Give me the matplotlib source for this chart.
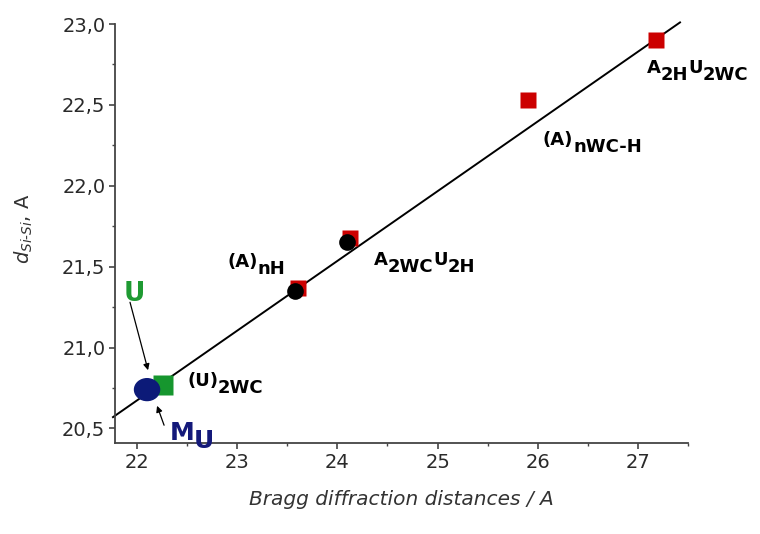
import numpy as np
import matplotlib
matplotlib.use("Agg")
import matplotlib.pyplot as plt
from matplotlib.patches import Ellipse
from matplotlib.ticker import MultipleLocator, FuncFormatter

plt.rcParams['font.family'] = ['DejaVu Sans']
plt.rcParams['mathtext.fontset'] = 'dejavusans'

# data
red_x = [23.61, 24.13, 25.90, 27.18]
red_y = [21.37, 21.68, 22.53, 22.90]
black_x = [23.58, 24.10]
black_y = [21.35, 21.65]
green_x = [22.26]
green_y = [20.77]
blue_x = [22.10]
blue_y = [20.74]
fit_x = [21.76, 27.42]
fit_y = [20.57, 23.01]

# labels: (x, y, [(text, shift_pt), ...])
label_pos = [(22.90, 21.50), (24.36, 21.51), (26.05, 22.25), (27.09, 22.70), (22.50, 20.76)]
label_parts = [
    [("(A)", 0), ("nH", -5)],
    [("A", 0), ("2WC", -5), ("U", 0), ("2H", -5)],
    [("(A)", 0), ("nWC-H", -5)],
    [("A", 0), ("2H", -5), ("U", 0), ("2WC", -5)],
    [("(U)", 0), ("2WC", -5)],
]

# arrows to the U / M_U points
u_text = (21.87, 21.29)
u_arrow = [(21.93, 21.28), (22.11, 20.86)]
mu_text = (22.33, 20.43)
mu_arrow = [(22.27, 20.52), (22.20, 20.64)]

fig = plt.figure(figsize=(7.6, 5.34), dpi=100)
ax = fig.add_axes([0.1513, 0.1704, 0.7540, 0.7846])


def chain_label(ax, x, y, parts, color='black', size=13, gap=0.0):
    prev = None
    prev_shift = 0
    for txt, shift in parts:
        if prev is None:
            prev = ax.annotate(txt, xy=(x, y), xycoords='data',
                               xytext=(0, shift), textcoords='offset points',
                               ha='left', va='baseline', fontsize=size,
                               fontweight='bold', color=color)
        else:
            prev = ax.annotate(txt, xy=(1, 0), xycoords=prev,
                               xytext=(gap, shift - prev_shift), textcoords='offset points',
                               ha='left', va='bottom', fontsize=size,
                               fontweight='bold', color=color)
        prev_shift = shift


ax.plot(fit_x, fit_y, color='black', lw=1.4, zorder=2, clip_on=False)
ax.plot(red_x, red_y, 's', color='#cc0000', ms=11.5, mec='none', zorder=3)
ax.plot(black_x, black_y, 'o', color='black', ms=12, mec='none', zorder=4)
ax.plot(green_x, green_y, 's', color='#16962e', ms=15, mec='none', zorder=5)
for bx, by in zip(blue_x, blue_y):
    ax.add_patch(Ellipse((bx, by), 0.25, 0.135, color='#0c1a78', zorder=6))

for (lx, ly), parts in zip(label_pos, label_parts):
    chain_label(ax, lx, ly, parts)

ax.text(u_text[0], u_text[1], "U", color='#1e9a32', fontsize=19,
        fontweight='bold', ha='left', va='baseline')
chain_label(ax, mu_text[0], mu_text[1], [("M", 0), ("U", -6)], color='#14197a', size=18,
            gap=-0.5)

arrow_props = dict(arrowstyle='-|>', color='black', lw=0.9, mutation_scale=9,
                   shrinkA=0, shrinkB=0)
ax.annotate("", xy=u_arrow[1], xytext=u_arrow[0], arrowprops=arrow_props)
ax.annotate("", xy=mu_arrow[1], xytext=mu_arrow[0], arrowprops=arrow_props)

ax.set_xlim(21.78, 27.5)
ax.set_ylim(20.41, 23.0)
ax.xaxis.set_major_locator(MultipleLocator(1))
ax.xaxis.set_minor_locator(MultipleLocator(0.5))
ax.yaxis.set_major_locator(MultipleLocator(0.5))
ax.yaxis.set_minor_locator(MultipleLocator(0.25))
ax.yaxis.set_major_formatter(FuncFormatter(lambda v, p: f"{v:.1f}".replace('.', ',')))
ax.xaxis.set_major_formatter(FuncFormatter(lambda v, p: f"{v:.0f}"))

for s in ['top', 'right']:
    ax.spines[s].set_visible(False)
for s in ['left', 'bottom']:
    ax.spines[s].set_color('#444444')
    ax.spines[s].set_linewidth(1.3)
ax.tick_params(which='major', direction='out', length=4, width=1.2,
               color='#444444', labelsize=14, labelcolor='#2a2a2a', pad=3)
ax.tick_params(which='minor', direction='out', length=2.5, width=1.0, color='#444444')

ax.set_xlabel("Bragg diffraction distances / A", fontsize=14.5, style='italic',
              color='#333333', labelpad=13)
ax.set_ylabel(r"$d_{Si\text{-}Si}$, A", fontsize=14, color='#333333')
ax.yaxis.set_label_coords(-0.14, 0.51)

fig.savefig("out.png", dpi=100)
